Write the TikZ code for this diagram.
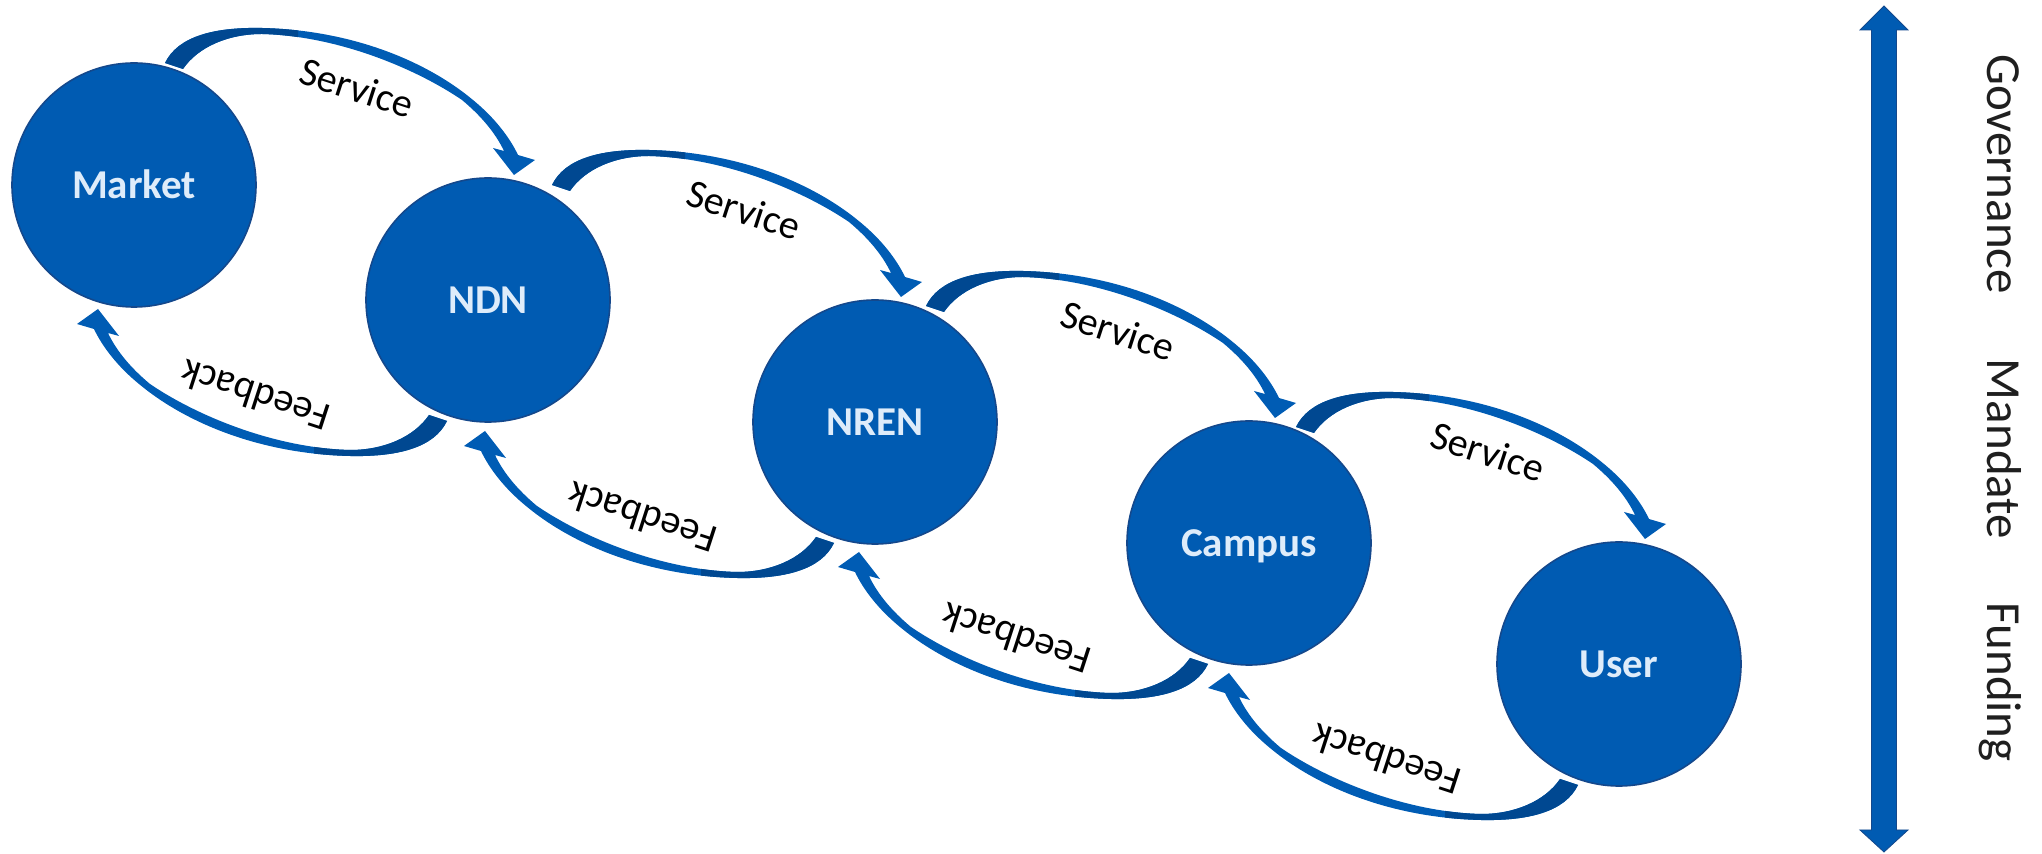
\documentclass[tikz,border=0pt]{standalone}
\usepackage{fontspec}
\setmainfont{Carlito}
\usetikzlibrary{calc}
\definecolor{nodeblue}{RGB}{0,91,178}
\definecolor{edgeblue}{RGB}{20,72,140}
\definecolor{arrowblue}{RGB}{0,92,180}
\definecolor{arrowdark}{RGB}{0,72,145}
\definecolor{lblfill}{RGB}{222,236,250}
\begin{document}
\begin{tikzpicture}[x=0.5pt, y=0.5pt,
  circ/.style={circle, fill=nodeblue, draw=edgeblue, line width=0.8pt,
    minimum size=122pt, inner sep=0pt, text=lblfill,
    font=\fontsize{20.5}{24}\selectfont\bfseries, text height=13.2pt, text depth=0pt},
  lbl/.style={font=\fontsize{20}{24}\selectfont, text=black, inner sep=0pt},
  side/.style={font=\fontsize{24.5}{29}\selectfont, text=black!88, rotate=-90,
    anchor=base, inner sep=0pt},
  pics/flow/.style={code={
    \fill[arrowblue] (-323,237) .. controls (-310,264) and (-273,273) .. (-226,272)
      .. controls (-138,270) and (-63,240) .. (-15,200)
      .. controls (7,182) and (22,162) .. (30,145)
      -- (47,140) -- (26,125) -- (5,152) -- (16,149)
      .. controls (7,168) and (-8,185) .. (-26,200)
      .. controls (-70,230) and (-148,264) .. (-226,266)
      .. controls (-260,266) and (-290,253) .. (-305,231) -- cycle;
    \begin{scope}
      \clip (-420,140) rectangle (-190,330);
      \fill[arrowdark] (-323,237) .. controls (-310,264) and (-273,273) .. (-226,272)
        .. controls (-138,270) and (-63,240) .. (-15,200)
        -- (-26,200)
        .. controls (-70,230) and (-148,264) .. (-226,266)
        .. controls (-260,266) and (-290,253) .. (-305,231) -- cycle;
    \end{scope}
    \node[lbl, transform shape, rotate=-18] at (-131,212) {#1};
  }}]
\useasboundingbox (0,0) rectangle (2042,-854);

% nodes
\node[circ] (market) at (134,-185) {Market};
\node[circ] (ndn)    at (488,-300) {NDN};
\node[circ] (nren)   at (875,-422) {NREN};
\node[circ] (campus) at (1249,-543) {Campus};
\node[circ] (user)   at (1619,-664) {User};

% service / feedback arrows
\foreach \r in {ndn,nren,campus,user}{
  \pic at (\r) {flow=Service};
  \pic[rotate=180] at ($(\r)+(-364,116)$) {flow=Feedback};
}

% vertical double arrow
\coordinate (vtop) at (1884,-6);
\coordinate (vbot) at (1884,-852);
\fill[nodeblue, draw=edgeblue, line width=0.4pt]
  (vtop) -- ++(24,-24) -- ++(-11.5,0) -- ($(vbot)+(12.5,22)$) -- ++(11.5,0)
  -- (vbot) -- ++(-24,22) -- ++(11.5,0) -- ($(vtop)+(-12.5,-24)$) -- ++(-11.5,0) -- cycle;

\node[side] (gov) at (1987,-174) {Governance};
\node[side] (man) at (1987,-449) {Mandate};
\node[side] (fun) at (1987,-682) {Funding};
\end{tikzpicture}
\end{document}
